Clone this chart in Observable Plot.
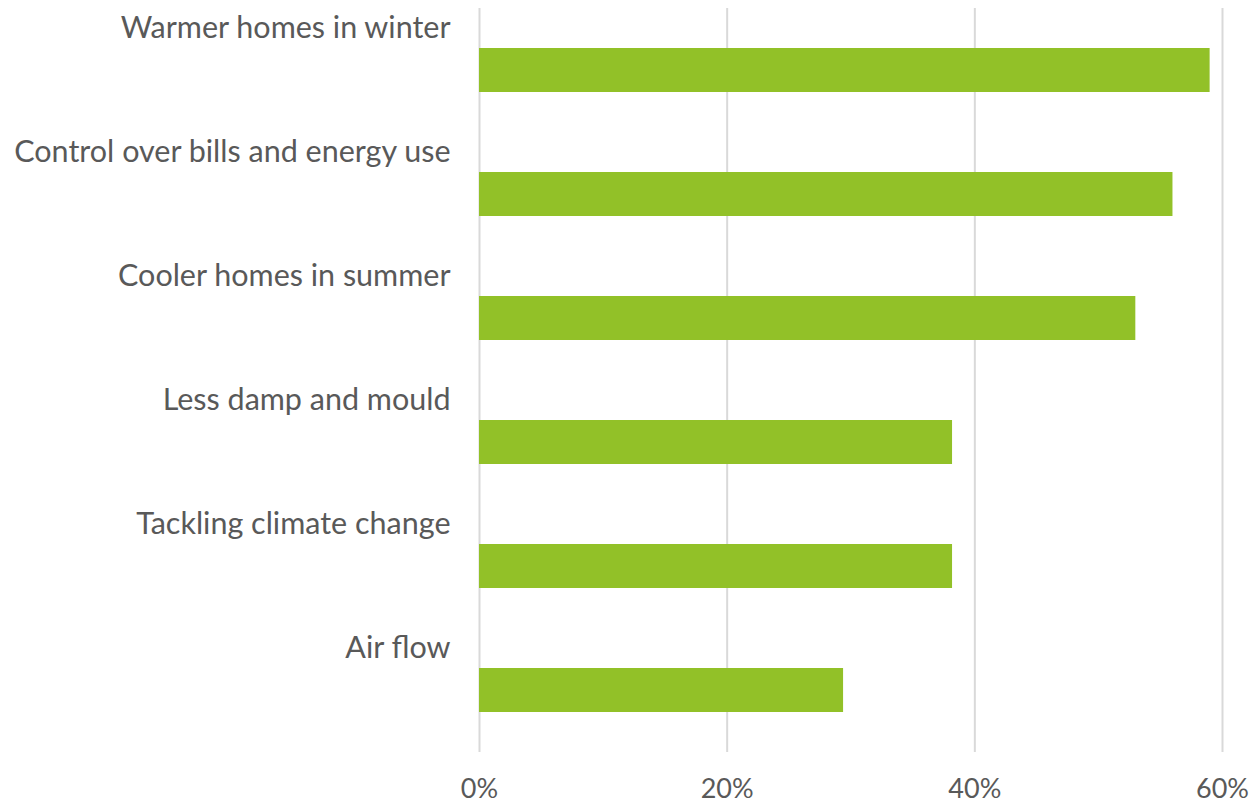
<!DOCTYPE html>
<html>
<head>
<meta charset="utf-8">
<script src="https://cdn.jsdelivr.net/npm/d3@7"></script>
<script src="https://cdn.jsdelivr.net/npm/@observablehq/plot@0.6"></script>
<style>
  html, body { margin: 0; padding: 0; background: #fff; }
  #chart svg { display: block; }
</style>
</head>
<body>
<div id="chart"></div>
<script>
const categories = [
  "Warmer homes in winter",
  "Control over bills and energy use",
  "Cooler homes in summer",
  "Less damp and mould",
  "Tackling climate change",
  "Air flow"
];
const values = [0.59, 0.56, 0.53, 0.382, 0.382, 0.294];
const xTicks = [0, 0.2, 0.4, 0.6];

const data = categories.map((c, i) => ({category: c, value: values[i]}));
const font = "'Lato', 'Open Sans', sans-serif";

const chart = Plot.plot({
  width: 1253,
  height: 803,
  marginLeft: 479,
  marginRight: 31,
  marginTop: 8,
  marginBottom: 51,
  style: {fontFamily: font, color: "#595959", background: "#fff"},
  x: {domain: [0, 0.6], ticks: xTicks, tickFormat: d3.format(".0%"), label: null, tickSize: 0, tickPadding: 26},
  y: {domain: categories, padding: 0, axis: null},
  marks: [
    Plot.ruleX(xTicks, {stroke: "#d9d9d9", strokeWidth: 2}),
    Plot.barX(data, {x: "value", y: "category", fill: "#92c128", insetTop: 40, insetBottom: 40}),
    Plot.text(data, {x: 0, y: "category", text: "category", textAnchor: "end", dx: -29, dy: -42, fontSize: 30.5, fill: "#595959"}),
    Plot.axisX({ticks: xTicks, tickFormat: d3.format(".0%"), tickSize: 0, tickPadding: 26, fontSize: 27, label: null, fill: "#595959"})
  ]
});
document.getElementById("chart").appendChild(chart);
</script>
</body>
</html>
